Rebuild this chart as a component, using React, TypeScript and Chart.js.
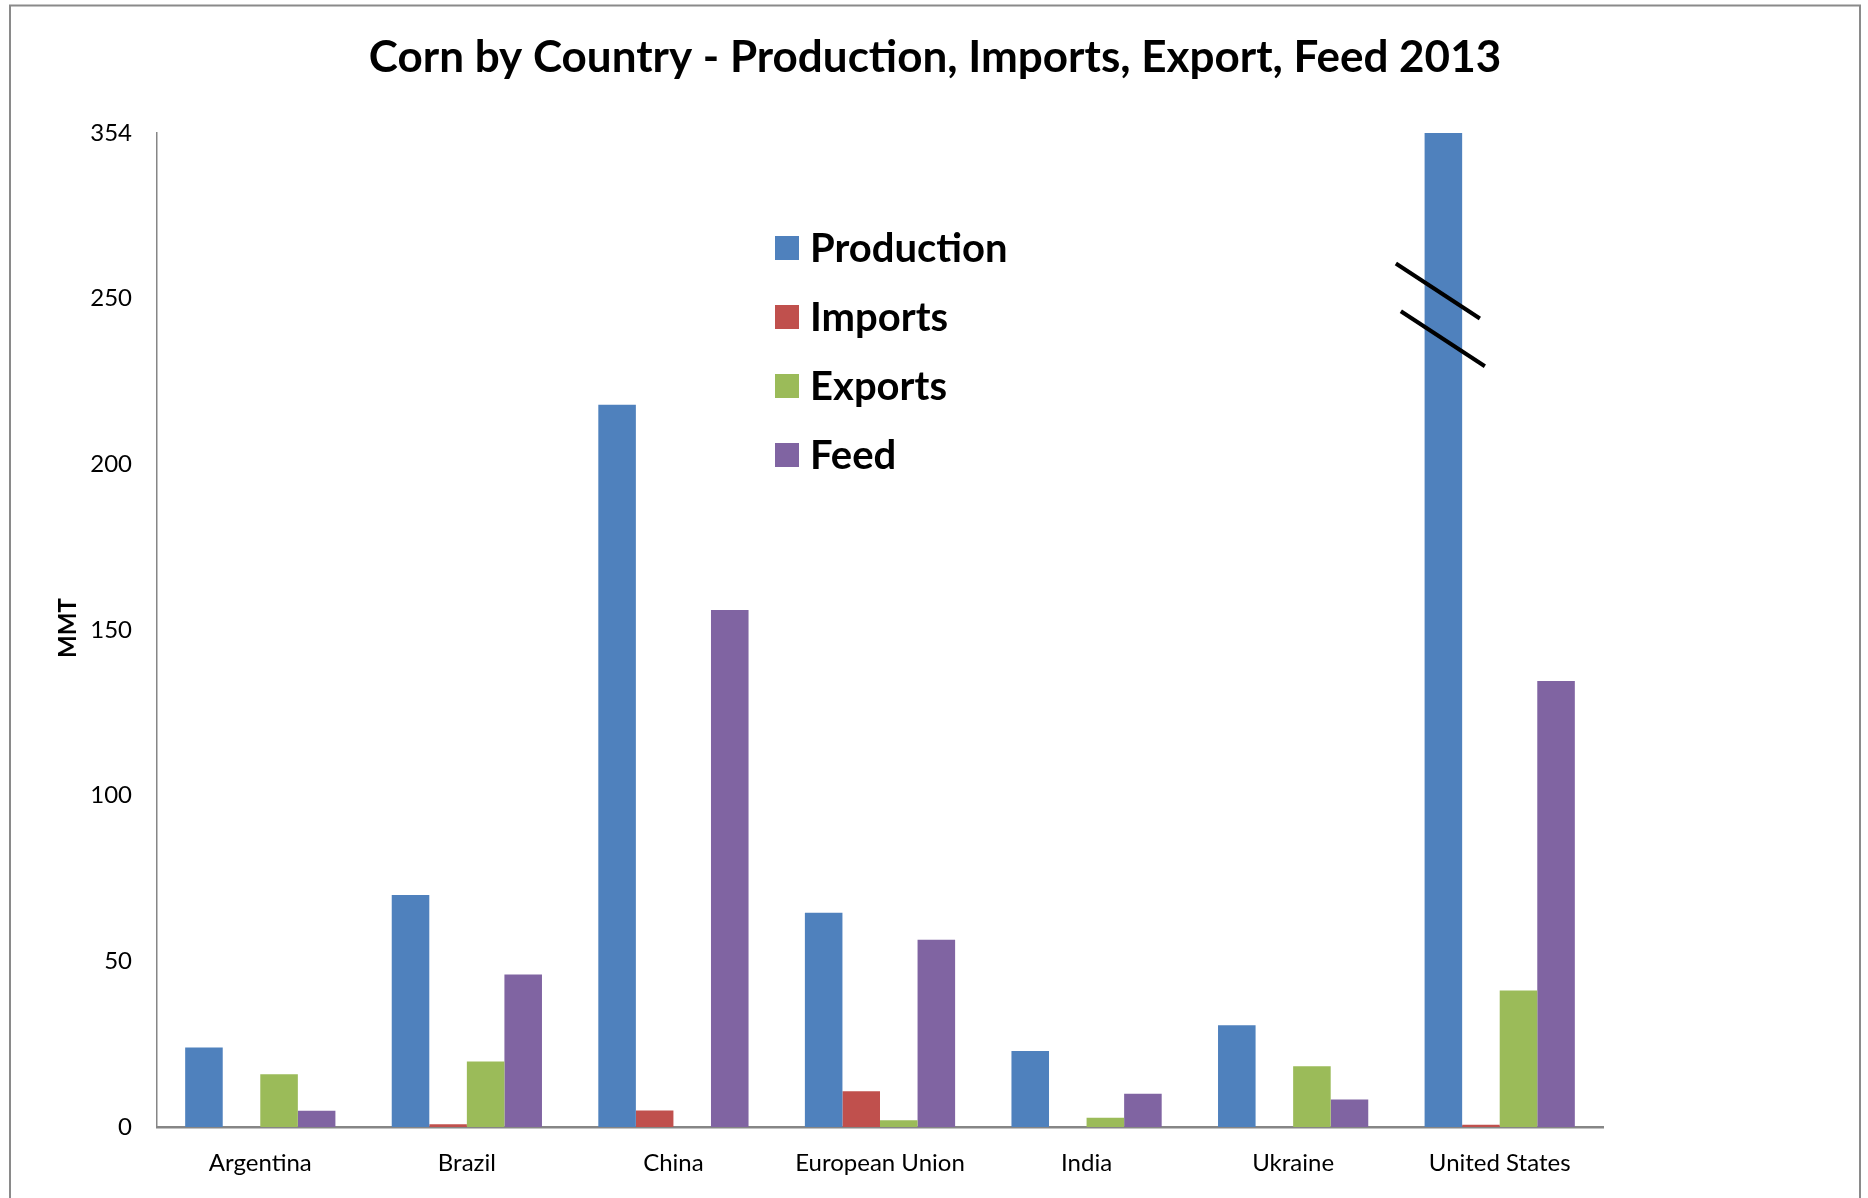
import React, { useEffect, useRef } from "react";
import { Chart, registerables } from "chart.js";

Chart.register(...registerables);

// ---------- data ----------
const categories = ["Argentina", "Brazil", "China", "European Union", "India", "Ukraine", "United States"];
const production = [24, 70, 218, 64.7, 22.9, 30.7, 354];
const imports = [0, 0.8, 5, 10.8, 0, 0, 0.7];
const exportsData = [15.9, 19.8, 0, 2, 2.8, 18.3, 41.2];
const feed = [4.9, 46, 156, 56.5, 10, 8.3, 134.6];

const seriesNames = ["Production", "Imports", "Exports", "Feed"];
const seriesColors = ["#4F81BD", "#C0504D", "#9BBB59", "#8064A2"];

const yTickValues = [0, 50, 100, 150, 200, 250, 354];
const titleText = "Corn by Country - Production, Imports, Export, Feed 2013";
const yAxisTitle = "MMT";

// broken axis: values above BREAK_START are compressed into the last slot
const BREAK_START = 250;
const AXIS_TOP = 354;
const SLOT_TOP = 300;
const toSlot = (v: number) =>
  v <= BREAK_START ? v : BREAK_START + ((v - BREAK_START) * (SLOT_TOP - BREAK_START)) / (AXIS_TOP - BREAK_START);

const FONT = "Lato, 'Open Sans', sans-serif";

const decorPlugin = {
  id: "decor",
  beforeDraw(chart: any) {
    const ctx = chart.ctx as CanvasRenderingContext2D;
    ctx.save();
    ctx.fillStyle = "#ffffff";
    ctx.fillRect(0, 0, chart.width, chart.height);
    ctx.strokeStyle = "#8a8a8a";
    ctx.lineWidth = 2;
    ctx.strokeRect(10, 5.5, 1850, 1300);
    ctx.restore();
  },
  afterDraw(chart: any) {
    const ctx = chart.ctx as CanvasRenderingContext2D;
    ctx.save();
    // title
    ctx.fillStyle = "#000";
    ctx.font = `bold 44px ${FONT}`;
    ctx.textAlign = "center";
    ctx.textBaseline = "alphabetic";
    ctx.fillText(titleText, 935, 72);

    // legend
    ctx.textAlign = "left";
    ctx.font = `bold 40px ${FONT}`;
    seriesNames.forEach((name, i) => {
      const top = 236 + i * 69;
      ctx.fillStyle = seriesColors[i];
      ctx.fillRect(775, top, 24, 24);
      ctx.fillStyle = "#000";
      ctx.fillText(name, 810, top + 26);
    });

    // y axis title
    ctx.save();
    ctx.translate(68, 628);
    ctx.rotate(-Math.PI / 2);
    ctx.font = `bold 24px ${FONT}`;
    ctx.textAlign = "center";
    ctx.textBaseline = "middle";
    ctx.fillText(yAxisTitle, 0, 0);
    ctx.restore();

    // break marks on the tallest bar
    const meta = chart.getDatasetMeta(0);
    const bar = meta.data[production.indexOf(Math.max(...production))];
    if (bar) {
      const y = chart.scales.y;
      const cx = bar.x;
      ctx.strokeStyle = "#000";
      ctx.lineWidth = 4;
      const marks = [
        { slot: 252.3, dx: -5.5 },
        { slot: 237.9, dx: -0.5 },
      ];
      marks.forEach((m) => {
        const my = y.getPixelForValue(m.slot);
        ctx.beginPath();
        ctx.moveTo(cx + m.dx - 42, my - 27.5);
        ctx.lineTo(cx + m.dx + 42, my + 27.5);
        ctx.stroke();
      });
    }
    ctx.restore();
  },
};

export default function App() {
  const canvasRef = useRef<HTMLCanvasElement | null>(null);

  useEffect(() => {
    if (!canvasRef.current) return;
    const allSeries = [production, imports, exportsData, feed];
    const chart = new Chart(canvasRef.current, {
      type: "bar",
      data: {
        labels: categories,
        datasets: allSeries.map((s, i) => ({
          label: seriesNames[i],
          data: s.map(toSlot),
          backgroundColor: seriesColors[i],
          borderWidth: 0,
          barPercentage: 1,
          categoryPercentage: 4 / 5.5,
        })),
      },
      options: {
        responsive: false,
        animation: false,
        devicePixelRatio: 1,
        layout: { padding: { left: 0, top: 133, right: 265, bottom: 0 } },
        plugins: {
          legend: { display: false },
          title: { display: false },
          tooltip: { enabled: false },
        },
        scales: {
          x: {
            type: "category",
            grid: { display: false, drawTicks: false },
            border: { display: true, color: "#868686", width: 2.5 },
            ticks: {
              color: "#000",
              font: { family: FONT, size: 24 },
              padding: 22,
              maxRotation: 0,
              autoSkip: false,
            },
            afterFit: (scale: any) => {
              scale.height = 71;
            },
          },
          y: {
            type: "linear",
            min: 0,
            max: SLOT_TOP,
            grid: { display: false, drawTicks: false },
            border: { display: true, color: "#868686", width: 1.5 },
            afterBuildTicks: (scale: any) => {
              scale.ticks = yTickValues.map((v) => ({ value: toSlot(v) }));
            },
            ticks: {
              color: "#000",
              font: { family: FONT, size: 24 },
              padding: 25,
              callback: (_value: any, index: number) => String(yTickValues[index]),
            },
            afterFit: (scale: any) => {
              scale.width = 157;
            },
          },
        },
      },
      plugins: [decorPlugin],
    });
    return () => chart.destroy();
  }, []);

  return (
    <div style={{ position: "absolute", left: 0, top: 0, width: 1868, height: 1198, background: "#fff" }}>
      <canvas ref={canvasRef} width={1868} height={1198} style={{ width: 1868, height: 1198, display: "block" }} />
    </div>
  );
}
